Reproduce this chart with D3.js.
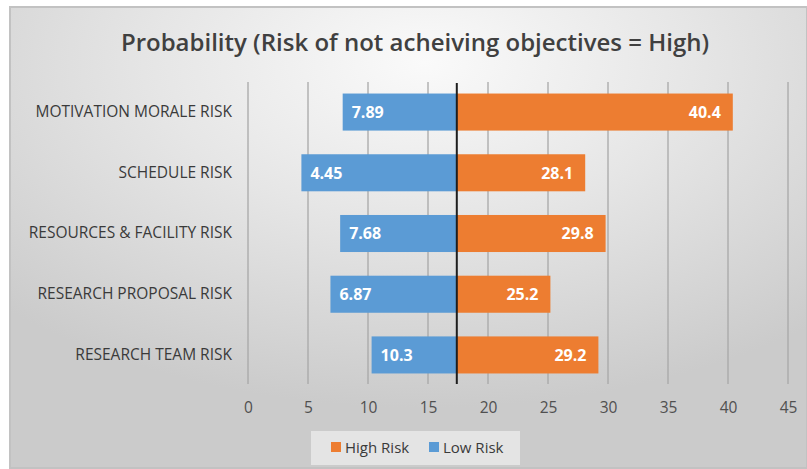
<!DOCTYPE html>
<html>
<head>
<meta charset="utf-8">
<script src="https://cdn.jsdelivr.net/npm/d3@7"></script>
<style>
  html, body { margin: 0; padding: 0; background: #ffffff; }
  svg { display: block; font-family: "Open Sans", "DejaVu Sans", sans-serif; }
</style>
</head>
<body>
<div id="chart"></div>
<script>
// tornado chart: low risk / high risk around a base value

const categories = [
  "MOTIVATION MORALE RISK",
  "SCHEDULE RISK",
  "RESOURCES & FACILITY RISK",
  "RESEARCH PROPOSAL RISK",
  "RESEARCH TEAM RISK"
]
const lowRisk = [7.89, 4.45, 7.68, 6.87, 10.3]
const highRisk = [40.4, 28.1, 29.8, 25.2, 29.2]
const baseValue = 17.4
const xTicks = [0, 5, 10, 15, 20, 25, 30, 35, 40, 45]
const legendNames = ["High Risk", "Low Risk"]

const width = 807, height = 469
const colors = { high: "#ED7D31", low: "#5B9BD5" }

const svg = d3.select("#chart")
  .append("svg")
  .attr("width", width)
  .attr("height", height)

// background gradient of the chart area
const defs = svg.append("defs")
const grad = defs.append("radialGradient")
  .attr("id", "bg")
  .attr("cx", "52%").attr("cy", "12%")
  .attr("r", "75%")
  .attr("fx", "52%").attr("fy", "12%")
grad.append("stop").attr("offset", "0%").attr("stop-color", "#fafafa")
grad.append("stop").attr("offset", "45%").attr("stop-color", "#e6e6e6")
grad.append("stop").attr("offset", "100%").attr("stop-color", "#cbcbcb")

svg.append("rect")
  .attr("x", 10).attr("y", 7)
  .attr("width", width - 10).attr("height", 461)
  .attr("fill", "url(#bg)")
  .attr("stroke", "#c2c2c2")
  .attr("stroke-width", 2)

// title
svg.append("text")
  .attr("x", 415)
  .attr("y", 51)
  .attr("text-anchor", "middle")
  .attr("font-size", "24px")
  .attr("font-weight", 600)
  .attr("fill", "#404040")
  .text("Probability (Risk of not acheiving objectives = High)")

// scales
const x = d3.scaleLinear()
  .domain([0, 45])
  .range([248, 788])

const y = d3.scaleBand()
  .domain(categories)
  .range([82, 385])
  .paddingInner(0.39)
  .paddingOuter(0.19)

// vertical gridlines
svg.append("g")
  .selectAll("line")
  .data(xTicks)
  .enter()
  .append("line")
  .attr("x1", d => x(d)).attr("x2", d => x(d))
  .attr("y1", 82).attr("y2", 384)
  .attr("stroke", "#a8a8a8")
  .attr("stroke-width", 1.3)

// x axis labels (no axis line in the original)
const xAxis = svg.append("g")
  .attr("transform", "translate(0, 407)")
  .call(d3.axisBottom(x).tickValues(xTicks).tickSize(0).tickPadding(0))
xAxis.select(".domain").remove()
xAxis.selectAll("text")
  .attr("dy", "0.36em")
  .attr("font-family", "'Open Sans', sans-serif")
  .attr("font-size", "15.5px")
  .attr("fill", "#505050")

// category labels
const yAxis = svg.append("g")
  .attr("transform", "translate(240, 0)")
  .call(d3.axisLeft(y).tickSize(0).tickPadding(8))
yAxis.select(".domain").remove()
yAxis.selectAll("text")
  .attr("font-family", "'Open Sans', sans-serif")
  .attr("font-size", "15.5px")
  .attr("fill", "#3a3a3a")

const rows = categories.map((c, i) => ({ cat: c, low: lowRisk[i], high: highRisk[i] }))

// low risk bars, from the low value up to the base
svg.append("g")
  .selectAll("rect")
  .data(rows)
  .enter()
  .append("rect")
  .attr("x", d => x(d.low))
  .attr("y", d => y(d.cat))
  .attr("width", d => x(baseValue) - x(d.low))
  .attr("height", y.bandwidth())
  .attr("fill", colors.low)

// high risk bars, from the base out to the high value
svg.append("g")
  .selectAll("rect")
  .data(rows)
  .enter()
  .append("rect")
  .attr("x", x(baseValue))
  .attr("y", d => y(d.cat))
  .attr("width", d => x(d.high) - x(baseValue))
  .attr("height", y.bandwidth())
  .attr("fill", colors.high)

// base line
svg.append("line")
  .attr("x1", x(baseValue)).attr("x2", x(baseValue))
  .attr("y1", 83).attr("y2", 384)
  .attr("stroke", "#1e1e1e")
  .attr("stroke-width", 2)

// value labels
svg.append("g")
  .selectAll("text")
  .data(rows)
  .enter()
  .append("text")
  .attr("x", d => x(d.low) + 9)
  .attr("y", d => y(d.cat) + y.bandwidth() / 2)
  .attr("dy", "0.36em")
  .attr("font-size", "16px")
  .attr("font-weight", 700)
  .attr("fill", "#ffffff")
  .text(d => d.low)

svg.append("g")
  .selectAll("text")
  .data(rows)
  .enter()
  .append("text")
  .attr("x", d => x(d.high) - 12)
  .attr("y", d => y(d.cat) + y.bandwidth() / 2)
  .attr("dy", "0.36em")
  .attr("text-anchor", "end")
  .attr("font-size", "16px")
  .attr("font-weight", 700)
  .attr("fill", "#ffffff")
  .text(d => d.high)

// legend
const legend = svg.append("g")
legend.append("rect")
  .attr("x", 311).attr("y", 431)
  .attr("width", 209).attr("height", 34)
  .attr("fill", "#ececec")
  .attr("opacity", 0.75)

const legendColors = [colors.high, colors.low]
const legendX = [331, 429]
legendNames.forEach((name, i) => {
  legend.append("rect")
    .attr("x", legendX[i]).attr("y", 442)
    .attr("width", 10).attr("height", 10)
    .attr("fill", legendColors[i])
  legend.append("text")
    .attr("x", legendX[i] + 14)
    .attr("y", 453)
    .attr("font-size", "15px")
    .attr("fill", "#3a3a3a")
    .text(name)
})
</script>
</body>
</html>
